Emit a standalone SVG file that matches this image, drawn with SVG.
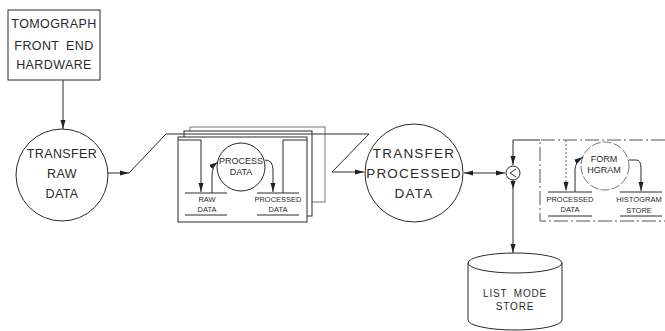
<svg xmlns="http://www.w3.org/2000/svg" width="665" height="331" viewBox="0 0 665 331">
<defs>
<marker id="ah" markerWidth="9" markerHeight="6" refX="9" refY="3" orient="auto" markerUnits="userSpaceOnUse">
<path d="M0,0.5 L9,3 L0,5.5 z" fill="#222"/>
</marker>
<marker id="ahs" markerWidth="9" markerHeight="6" refX="9" refY="3" orient="auto-start-reverse" markerUnits="userSpaceOnUse">
<path d="M0,0.5 L9,3 L0,5.5 z" fill="#222"/>
</marker>
</defs>
<style>
.s{fill:none;stroke:#2a2a2a;stroke-width:1}
.w{fill:#fff;stroke:#2a2a2a;stroke-width:1}
.d{fill:none;stroke:#555;stroke-width:1;stroke-dasharray:14 3 2 3}
.dt{fill:none;stroke:#666;stroke-width:1;stroke-dasharray:2 2}
.t{font-family:"Liberation Sans",Arial,sans-serif;fill:#2a2a2a;text-anchor:middle}
.L{font-size:12.5px;letter-spacing:0.4px}
.X{font-size:13.5px;letter-spacing:1.2px}
.M{font-size:9px}
.S{font-size:7.5px}
</style>
<rect width="665" height="331" fill="#fff"/>

<g id="tomograph">
<rect class="s" x="8" y="10" width="92" height="70"/>
<text class="t L" x="54" y="28">TOMOGRAPH</text>
<text class="t L" x="54" y="50" style="word-spacing:3px">FRONT END</text>
<text class="t L" x="54" y="69">HARDWARE</text>
</g>

<g id="transfer-raw">
<circle class="s" cx="62" cy="175" r="46"/>
<text class="t L" x="62" y="158">TRANSFER</text>
<text class="t L" x="62" y="178">RAW</text>
<text class="t L" x="62" y="198">DATA</text>
</g>

<g id="process-stack">
<rect class="w" x="190" y="127" width="135" height="75" style="stroke:#777"/>
<rect class="w" x="184" y="131" width="128" height="85"/>
<rect class="w" x="178" y="137" width="129" height="85"/>
</g>

<g id="process-data">
<circle class="s" cx="241" cy="167" r="24"/>
<text class="t M" x="241" y="164">PROCESS</text>
<text class="t M" x="241" y="175">DATA</text>
</g>

<g id="raw-data-store">
<line class="s" x1="185" y1="193" x2="227" y2="193"/>
<line class="s" x1="185" y1="215" x2="227" y2="215"/>
<text class="t S" x="207" y="202">RAW</text>
<text class="t S" x="207" y="212">DATA</text>
</g>

<g id="processed-data-store">
<line class="s" x1="257" y1="193" x2="299" y2="193"/>
<line class="s" x1="257" y1="215" x2="299" y2="215"/>
<text class="t S" x="278" y="202">PROCESSED</text>
<text class="t S" x="278" y="212">DATA</text>
</g>

<g id="transfer-processed">
<circle class="s" cx="414" cy="173" r="49"/>
<text class="t X" x="414" y="158">TRANSFER</text>
<text class="t X" x="414" y="178">PROCESSED</text>
<text class="t X" x="414" y="198">DATA</text>
</g>

<g id="junction">
<circle class="s" cx="513" cy="173" r="7"/>
<path class="s" d="M516,169 L510,173 L516,177"/>
</g>

<g id="histogram-panel">
<path class="d" d="M665,140 L540,140 L540,221 L665,221"/>
</g>

<g id="form-hgram">
<circle class="s" cx="605" cy="166" r="24" style="stroke:#777;stroke-dasharray:9 2"/>
<text class="t M" x="604" y="162">FORM</text>
<text class="t M" x="604" y="173">HGRAM</text>
</g>

<g id="processed-data-store-2">
<line class="s" x1="548" y1="192" x2="592" y2="192"/>
<line class="s" x1="548" y1="216" x2="592" y2="216"/>
<text class="t S" x="570" y="202">PROCESSED</text>
<text class="t S" x="570" y="212">DATA</text>
</g>

<g id="histogram-store">
<line class="s" x1="620" y1="192" x2="662" y2="192"/>
<line class="s" x1="620" y1="216" x2="662" y2="216"/>
<text class="t S" x="639" y="202">HISTOGRAM</text>
<text class="t S" x="639" y="213">STORE</text>
</g>

<g id="list-mode-store">
<path class="s" d="M468,263 L468,320 A47,10 0 0 0 562,320 L562,263"/>
<ellipse class="s" cx="515" cy="263" rx="47" ry="10"/>
<text class="t" x="515" y="297" style="font-size:10px;letter-spacing:0.8px;word-spacing:3px">LIST MODE</text>
<text class="t" x="515" y="310" style="font-size:10px;letter-spacing:0.8px">STORE</text>
</g>

<g id="connectors">
<line class="s" x1="63" y1="80" x2="63" y2="129" marker-end="url(#ah)"/>
<line class="s" x1="108" y1="173" x2="129" y2="173" marker-end="url(#ah)"/>
<polyline class="s" points="129,173 166,134 369,134"/>
<line class="s" x1="369" y1="134" x2="332" y2="172"/>
<line class="s" x1="332" y1="172" x2="364" y2="172" marker-end="url(#ah)"/>
<polyline class="s" points="178,140 201,140 201,192" marker-end="url(#ah)"/>
<path class="s" d="M212,193 L212,176 Q212,166 218,162" marker-end="url(#ah)"/>
<path class="s" d="M265,160 Q273,160 273,170 L273,192" marker-end="url(#ah)"/>
<polyline class="s" points="283,193 283,140 307,140"/>
<line class="s" x1="464" y1="173" x2="505" y2="173" marker-start="url(#ahs)" marker-end="url(#ah)"/>
<polyline class="s" points="540,140 513,140 513,165" marker-end="url(#ah)"/>
<line class="s" x1="513" y1="180" x2="513" y2="253" marker-end="url(#ah)"/>
<path d="M510.5,181 L515.5,181 L513,189 z" fill="#222"/>
<line class="dt" x1="566" y1="140" x2="566" y2="191" marker-end="url(#ah)"/>
<path class="s" d="M575,192 L575,170 Q575,162 583,157" marker-end="url(#ah)"/>
<path class="s" d="M629,160 L636,160 Q641,160 641,168 L641,191" marker-end="url(#ah)"/>
</g>
</svg>
